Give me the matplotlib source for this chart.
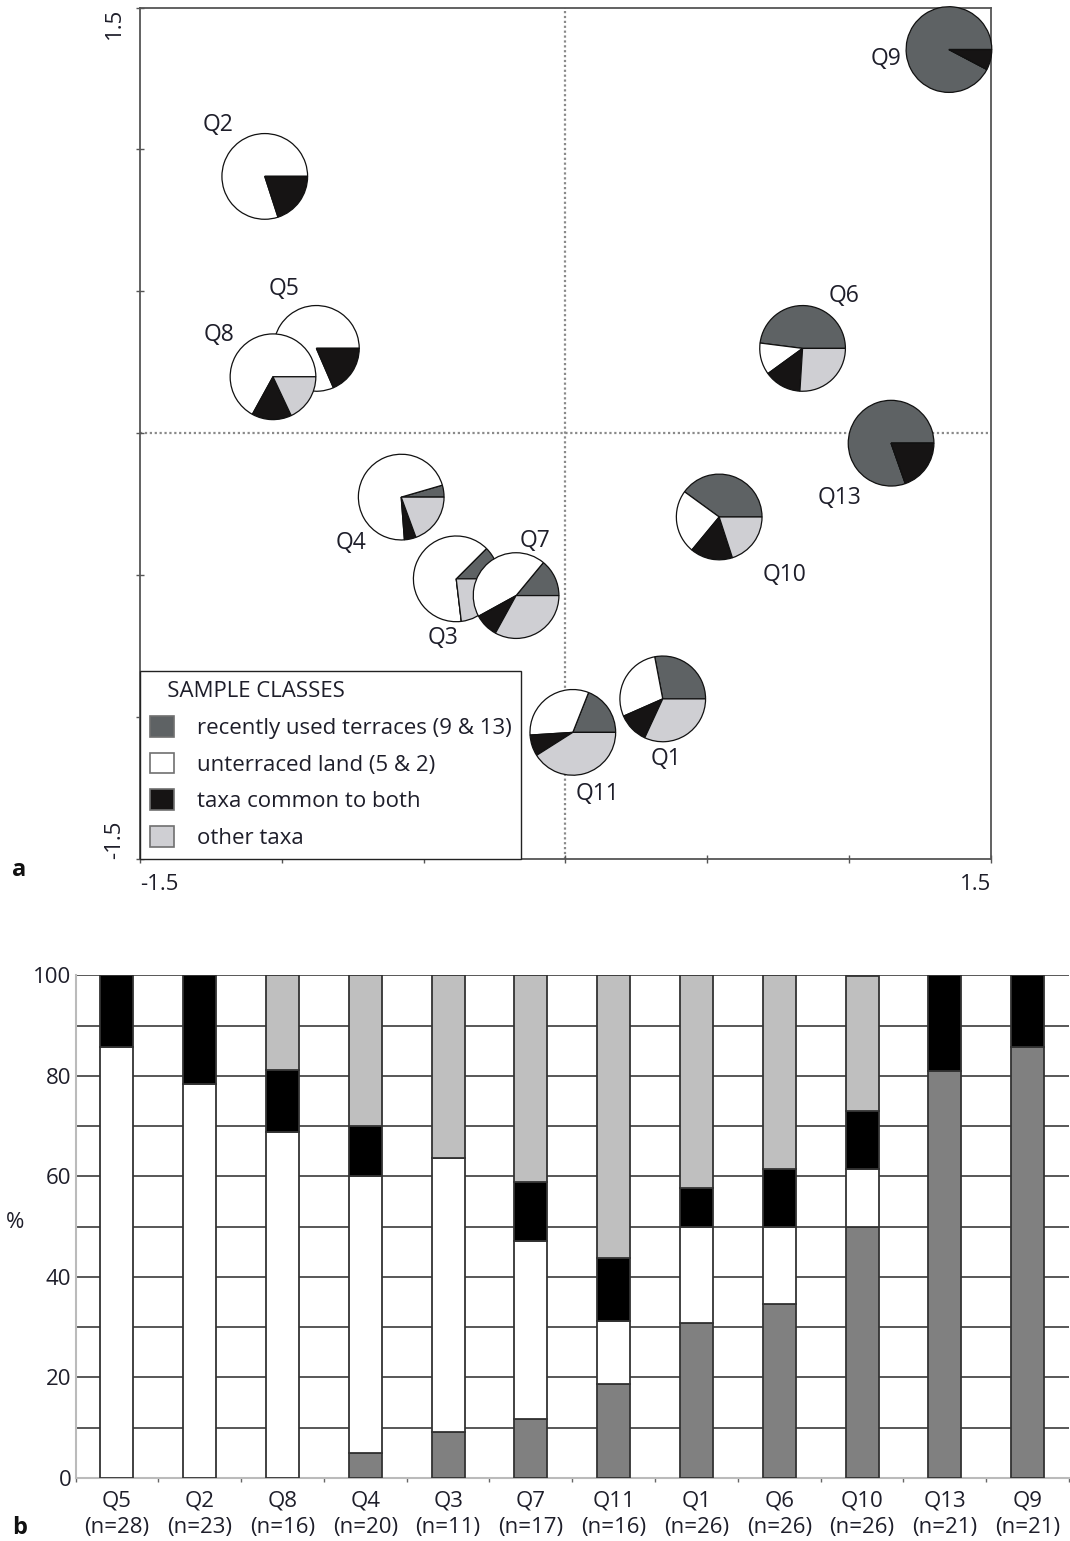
import matplotlib
matplotlib.use("Agg")
import matplotlib.pyplot as plt
from matplotlib.patches import Patch
import numpy as np

plt.rcParams['font.family'] = ['Open Sans', 'DejaVu Sans']
TEXT = "#1e1e2a"
FS = 16

# ---- panel b: stacked percentages per sample
samples = ['Q5', 'Q2', 'Q8', 'Q4', 'Q3', 'Q7', 'Q11', 'Q1', 'Q6', 'Q10', 'Q13', 'Q9']
n_taxa = [28, 23, 16, 20, 11, 17, 16, 26, 26, 26, 21, 21]
terraces_pct = [0, 0, 0, 5.0, 9.1, 11.8, 18.75, 30.8, 34.6, 50.0, 81.0, 85.7]
unterraced_pct = [85.7, 78.3, 68.75, 55.0, 54.5, 35.3, 12.5, 19.2, 15.4, 11.5, 0, 0]
common_pct = [14.3, 21.7, 12.5, 10.0, 0, 11.8, 12.5, 7.7, 11.5, 11.5, 19.0, 14.3]
other_pct = [0, 0, 18.75, 30.0, 36.4, 41.2, 56.25, 42.3, 38.5, 26.9, 0, 0]

# ---- panel a: ordination scores and pie fractions
pie_samples = ['Q2', 'Q5', 'Q8', 'Q4', 'Q3', 'Q7', 'Q11', 'Q1', 'Q6', 'Q13', 'Q10', 'Q9']
axis1 = [-1.060, -0.878, -1.031, -0.579, -0.385, -0.174, 0.026, 0.343, 0.836, 1.148, 0.542, 1.352]
axis2 = [0.905, 0.299, 0.199, -0.225, -0.513, -0.572, -1.054, -0.936, 0.299, -0.035, -0.295, 1.352]
pie_terraces = [0, 0, 0, 4.5, 12.5, 14, 19, 28, 48, 80.4, 40, 92.3]
pie_unterraced = [80, 81.5, 67, 71.7, 64.4, 44, 32, 28.6, 12, 0, 24, 0]
pie_common = [20, 18.5, 15, 4.4, 0, 9, 8, 11.5, 14, 19.6, 16, 7.7]
pie_other = [0, 0, 18, 19.4, 23.1, 33, 41, 31.9, 26, 0, 20, 0]

class_names = ['recently used terraces (9 & 13)', 'unterraced land (5 & 2)',
               'taxa common to both', 'other taxa']

pie_colors = ['#5e6264', '#ffffff', '#161414', '#cfcfd3']
bar_colors = ['#808080', '#ffffff', '#000000', '#bfbfbf']

# label placement relative to each pie (layout only)
label_offsets = [(-0.165, 0.182), (-0.115, 0.209), (-0.191, 0.147), (-0.178, -0.160),
                 (-0.048, -0.207), (0.065, 0.191), (0.087, -0.217), (0.013, -0.211),
                 (0.146, 0.185), (-0.183, -0.194), (0.229, -0.206), (-0.222, -0.035)]
PIE_R = 0.151

fig = plt.figure(figsize=(10.7, 15.41), dpi=100)

# ================= panel a =================
ax1 = fig.add_axes([0.1308, 0.4426, 0.7953, 0.5525])
ax1.axvline(0, color='#8a8a8a', ls=(0, (1, 1.2)), lw=1.6, zorder=1)
ax1.axhline(0, color='#8a8a8a', ls=(0, (1, 1.2)), lw=1.6, zorder=1)

for i, name in enumerate(pie_samples):
    vals = [pie_terraces[i], pie_unterraced[i], pie_common[i], pie_other[i]]
    wedges, _ = ax1.pie(vals, colors=pie_colors, startangle=0, counterclock=True,
                        center=(axis1[i], axis2[i]), radius=PIE_R, frame=True,
                        wedgeprops=dict(edgecolor='#111111', linewidth=0.9))
    for w in wedges:
        w.set_zorder(3 + i)
        w.set_clip_on(False)
    dx, dy = label_offsets[i]
    ax1.text(axis1[i] + dx, axis2[i] + dy, name, ha='center', va='center',
             fontsize=16.5, color=TEXT, zorder=20)

ax1.set_aspect('auto')
ax1.set_xlim(-1.5, 1.5)
ax1.set_ylim(-1.5, 1.5)
ticks = [-1.5, -1.0, -0.5, 0, 0.5, 1.0, 1.5]
ax1.set_xticks(ticks)
ax1.set_yticks(ticks)
ax1.set_xticklabels(['-1.5', '', '', '', '', '', '1.5'])
ax1.set_yticklabels(['-1.5', '', '', '', '', '', '1.5'])
ax1.tick_params(direction='inout', length=6, width=1.0, color='#555555',
                labelsize=FS, labelcolor=TEXT, pad=8)
xl = ax1.get_xticklabels()
xl[0].set_ha('left')
xl[-1].set_ha('right')
for lbl in ax1.get_yticklabels():
    lbl.set_rotation(90)
yl = ax1.get_yticklabels()
yl[0].set_va('bottom')
yl[-1].set_va('top')
for s in ax1.spines.values():
    s.set_color('#555555')
    s.set_linewidth(1.3)

handles = [Patch(facecolor=c, edgecolor='#707070', linewidth=1.2) for c in pie_colors]
leg = ax1.legend(handles, class_names, loc='lower left', bbox_to_anchor=(0, 0),
                 borderaxespad=0, title='\u00a0\u00a0\u00a0SAMPLE CLASSES', alignment='left',
                 fancybox=False, edgecolor='#222222', framealpha=1, fontsize=FS,
                 title_fontsize=FS, handlelength=1.1, handleheight=1.05,
                 handletextpad=1.0, labelspacing=0.62, borderpad=0.45)
leg.get_frame().set_linewidth(1.0)
leg.set_zorder(30)
for t in leg.get_texts():
    t.set_color(TEXT)
leg.get_title().set_color(TEXT)

fig.text(0.011, 0.4354, 'a', fontsize=17, fontweight='bold', va='center', color='#111')

# ================= panel b =================
ax2 = fig.add_axes([0.0706, 0.0409, 0.9285, 0.3261])
x = np.arange(len(samples))
bottom = np.zeros(len(samples))
for vals, col in zip([terraces_pct, unterraced_pct, common_pct, other_pct], bar_colors):
    ax2.bar(x, vals, bottom=bottom, width=0.4, color=col, edgecolor='#333333',
            linewidth=1.3, zorder=3)
    bottom += np.array(vals)

ax2.set_xlim(-0.5, len(samples) - 0.5)
ax2.set_ylim(0, 100)
ax2.set_yticks(range(0, 101, 20))
ax2.set_yticks(range(10, 100, 20), minor=True)
ax2.set_axisbelow(True)
ax2.grid(axis='y', which='both', color='#4a4a4a', lw=1.3)
ax2.set_xticks(x)
ax2.set_xticklabels([f'{s}\n(n={k})' for s, k in zip(samples, n_taxa)], linespacing=1.35)
ax2.set_xticks(np.arange(-0.5, len(samples), 1.0), minor=True)
ax2.tick_params(axis='x', which='major', length=0, pad=9, labelsize=FS, labelcolor=TEXT)
ax2.tick_params(axis='x', which='minor', length=3, width=1, color='#666666')
ax2.tick_params(axis='y', which='both', length=0, pad=3, labelsize=FS, labelcolor=TEXT)
ax2.spines['top'].set_visible(False)
ax2.spines['right'].set_visible(False)
for s in ('left', 'bottom'):
    ax2.spines[s].set_color('#bbbbbb')
    ax2.spines[s].set_linewidth(1.5)
    ax2.spines[s].set_zorder(2.5)
ax2.set_ylabel('%', rotation=0, fontsize=FS, color=TEXT, va='center', ha='center')
ax2.yaxis.set_label_coords(-0.061, 0.509)

fig.text(0.011, 0.0084, 'b', fontsize=17, fontweight='bold', va='center', color='#111')

fig.savefig('out.png', dpi=100)
